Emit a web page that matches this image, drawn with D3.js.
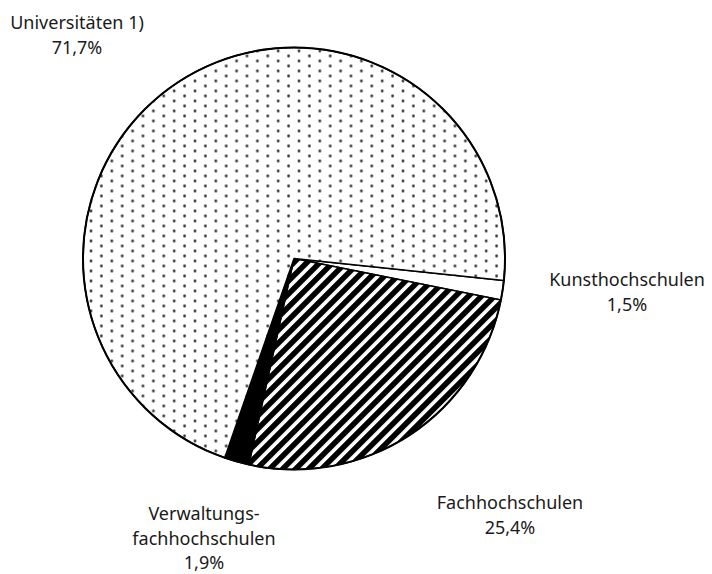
<!DOCTYPE html>
<html>
<head>
<meta charset="utf-8">
<script src="https://cdn.jsdelivr.net/npm/d3@7"></script>
<style>
  body { margin: 0; background: #fff; }
  text { font-family: "Noto Sans", sans-serif; font-size: 18px; fill: #1a1a1a; }
</style>
</head>
<body>
<div id="pieChart"></div>
<script>
// Anteil der Studierenden nach Hochschulart
const categories = ["Kunsthochschulen", "Fachhochschulen", "Verwaltungsfachhochschulen", "Universitäten 1)"];
const shares = [1.5, 25.4, 1.9, 71.7];
const labelLines = [
    ["Kunsthochschulen", "1,5%"],
    ["Fachhochschulen", "25,4%"],
    ["Verwaltungs-", "fachhochschulen", "1,9%"],
    ["Universitäten 1)", "71,7%"]
];
const fills = ["white", "url(#hatch)", "black", "url(#dots)"];
// label anchors (centre of first line baseline)
const labelPos = [[627, 286], [510, 509], [204, 520], [77, 29]];

function createPieChart() {
    const width = 712, height = 574;
    const cx = 294, cy = 258.5, radius = 211;

    const svg = d3.select("#pieChart").append("svg")
        .attr("width", width)
        .attr("height", height);

    const defs = svg.append("defs");

    // dotted pattern for Universitäten
    const dots = defs.append("pattern")
        .attr("id", "dots")
        .attr("patternUnits", "userSpaceOnUse")
        .attr("width", 20.8)
        .attr("height", 10);
    dots.append("rect").attr("width", 20.8).attr("height", 10).attr("fill", "white");
    dots.append("circle").attr("cx", 5).attr("cy", 2.5).attr("r", 1.4).attr("fill", "#333");
    dots.append("circle").attr("cx", 15.4).attr("cy", 7.5).attr("r", 1.4).attr("fill", "#333");

    // diagonal hatch for Fachhochschulen
    const hatch = defs.append("pattern")
        .attr("id", "hatch")
        .attr("patternUnits", "userSpaceOnUse")
        .attr("width", 9.2)
        .attr("height", 9.2)
        .attr("patternTransform", "rotate(45)");
    hatch.append("rect").attr("width", 9.2).attr("height", 9.2).attr("fill", "white");
    hatch.append("rect").attr("width", 5.6).attr("height", 9.2).attr("fill", "black");

    const g = svg.append("g")
        .attr("transform", `translate(${cx},${cy})`);

    const startDeg = 96;
    const pie = d3.pie()
        .sort(null)
        .startAngle(startDeg * Math.PI / 180)
        .endAngle((startDeg + 360) * Math.PI / 180);

    const arc = d3.arc()
        .innerRadius(0)
        .outerRadius(radius);

    g.selectAll(".slice")
        .data(pie(shares))
        .enter().append("path")
        .attr("class", "slice")
        .attr("d", arc)
        .attr("fill", (d, i) => fills[i])
        .attr("stroke", "black")
        .attr("stroke-width", 1.5)
        .attr("stroke-linejoin", "round");

    // outer ring
    g.append("circle")
        .attr("r", radius)
        .attr("fill", "none")
        .attr("stroke", "black")
        .attr("stroke-width", 2);

    // Labels
    const labels = svg.selectAll(".label")
        .data(categories)
        .enter().append("text")
        .attr("class", "label")
        .attr("text-anchor", "middle")
        .attr("x", (d, i) => labelPos[i][0])
        .attr("y", (d, i) => labelPos[i][1]);

    labels.selectAll("tspan")
        .data((d, i) => labelLines[i].map(t => ({t, x: labelPos[i][0]})))
        .enter().append("tspan")
        .attr("x", d => d.x)
        .attr("dy", (d, j) => j === 0 ? 0 : 24.5)
        .text(d => d.t);
}

createPieChart();
</script>
</body>
</html>
